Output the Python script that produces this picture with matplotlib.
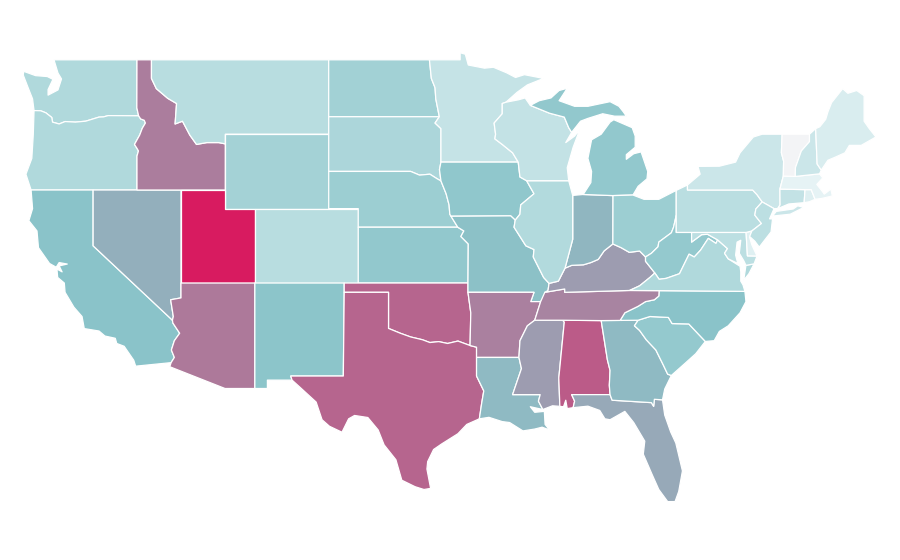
import matplotlib
matplotlib.use("Agg")
import matplotlib.pyplot as plt
from matplotlib.colors import LinearSegmentedColormap, Normalize
from matplotlib.patches import Polygon

WA = [(-122.65,49.0),(-117.03,49.0),(-117.04,46.42),(-116.92,45.99),(-118.98,46.0),(-119.3,45.93),(-119.6,45.92),(-120.5,45.7),(-121.2,45.65),(-121.9,45.68),(-122.3,45.55),(-122.75,45.65),(-122.8,45.9),(-123.2,46.15),(-123.55,46.26),(-124.0,46.27),(-124.07,46.7),(-124.1,46.9),(-124.4,47.5),(-124.73,48.18),(-124.7,48.38),(-123.9,48.15),(-123.1,48.1),(-122.72,47.95),(-123.05,47.4),(-123.05,47.1),(-122.38,47.38),(-122.14,47.97),(-122.38,48.29)]
OR = [(-124.0,46.27),(-123.55,46.26),(-123.2,46.15),(-122.8,45.9),(-122.75,45.65),(-122.3,45.55),(-121.9,45.68),(-121.2,45.65),(-120.5,45.7),(-119.6,45.92),(-119.3,45.93),(-118.98,46.0),(-116.92,45.99),(-116.78,45.82),(-116.54,45.75),(-116.46,45.6),(-116.67,45.32),(-116.85,44.95),(-117.2,44.45),(-117.03,44.24),(-116.93,44.1),(-117.03,43.83),(-117.03,42.0),(-124.2,42.0),(-124.55,42.85),(-124.15,43.7),(-124.05,45.0)]
CA = [(-124.2,42),(-120,42),(-120,39),(-114.63,35),(-114.6,34.85),(-114.14,34.3),(-114.5,33.9),(-114.7,33.4),(-114.5,33),(-114.72,32.72),(-117.12,32.53),(-117.25,32.85),(-117.9,33.6),(-118.4,33.75),(-118.5,34.03),(-119.2,34.15),(-119.6,34.42),(-120.6,34.55),(-120.75,35.2),(-121.3,35.7),(-121.9,36.5),(-121.95,37.0),(-122.4,37.3),(-122.45,37.75),(-122.1,37.6),(-122.3,37.92),(-121.75,38.02),(-122.3,38.1),(-122.5,37.85),(-122.95,38.05),(-123.7,38.9),(-123.8,39.8),(-124.35,40.35),(-124.1,41.0)]
NV = [(-120,42),(-114.05,42),(-114.05,36.2),(-114.75,36.1),(-114.57,35.2),(-114.63,35),(-120,39)]
ID = [(-117.03,49),(-116.05,49),(-116.05,48.0),(-115.72,47.45),(-114.95,46.93),(-114.35,46.65),(-114.45,45.55),(-113.95,45.7),(-113.45,44.95),(-113.0,44.45),(-112.3,44.55),(-111.5,44.55),(-111.05,44.48),(-111.05,42),(-117.03,42),(-117.03,43.83),(-116.93,44.1),(-117.03,44.24),(-117.2,44.45),(-116.85,44.95),(-116.67,45.32),(-116.46,45.6),(-116.54,45.75),(-116.78,45.82),(-116.92,45.99),(-117.04,46.42)]
MT = [(-116.05,49),(-104.05,49),(-104.05,45),(-111.05,45),(-111.05,44.48),(-111.5,44.55),(-112.3,44.55),(-113.0,44.45),(-113.45,44.95),(-113.95,45.7),(-114.45,45.55),(-114.35,46.65),(-114.95,46.93),(-115.72,47.45),(-116.05,48.0)]
WY = [(-111.05,45),(-104.05,45),(-104.05,41),(-111.05,41)]
UT = [(-114.05,42),(-111.05,42),(-111.05,41),(-109.05,41),(-109.05,37),(-114.05,37)]
CO = [(-109.05,41),(-102.05,41),(-102.05,37),(-109.05,37)]
AZ = [(-114.05,37),(-109.05,37),(-109.05,31.33),(-111.07,31.33),(-114.81,32.5),(-114.72,32.72),(-114.5,33.0),(-114.7,33.4),(-114.5,33.9),(-114.14,34.3),(-114.6,34.85),(-114.63,35.0),(-114.57,35.2),(-114.75,36.1),(-114.05,36.2)]
NM = [(-109.05,37),(-103,37),(-103,36.5),(-103.06,32),(-106.62,32),(-106.53,31.78),(-108.2,31.78),(-108.2,31.33),(-109.05,31.33)]
ND = [(-104.05,49),(-97.23,49),(-97.1,48.0),(-96.85,47.5),(-96.8,46.9),(-96.56,45.94),(-104.05,45.94)]
SD = [(-104.05,45.94),(-96.56,45.94),(-96.85,45.6),(-96.45,45.3),(-96.45,43.5),(-96.55,43.1),(-96.45,42.49),(-96.7,42.6),(-97.2,42.85),(-97.9,42.8),(-98.5,43),(-104.05,43)]
NE = [(-104.05,43),(-98.5,43),(-97.9,42.8),(-97.2,42.85),(-96.7,42.6),(-96.45,42.49),(-96.1,41.8),(-95.9,41.2),(-95.85,40.7),(-95.31,40),(-102.05,40),(-102.05,41),(-104.05,41)]
KS = [(-102.05,40),(-95.31,40),(-94.9,39.8),(-95.1,39.5),(-94.6,39.1),(-94.62,37),(-102.05,37)]
OK = [(-103,37),(-94.62,37),(-94.62,36.5),(-94.43,35.4),(-94.48,33.64),(-95.3,33.88),(-96.0,33.75),(-96.6,33.85),(-97.2,33.8),(-97.7,33.95),(-98.5,34.1),(-99.2,34.3),(-100,34.56),(-100,36.5),(-103,36.5)]
TX = [(-103,36.5),(-100,36.5),(-100,34.56),(-99.2,34.3),(-98.5,34.1),(-97.7,33.95),(-97.2,33.8),(-96.6,33.85),(-96.0,33.75),(-95.3,33.88),(-94.48,33.64),(-94.04,33.55),(-94.04,32),(-93.55,31.2),(-93.7,30.5),(-93.85,29.7),(-94.7,29.4),(-95.3,28.9),(-96.4,28.35),(-96.95,28.05),(-97.35,27.4),(-97.4,27),(-97.15,25.96),(-97.6,25.9),(-98.2,26.05),(-99.1,26.4),(-99.5,27.5),(-100.3,28.3),(-100.7,29.1),(-101.4,29.77),(-102.3,29.88),(-102.7,29.7),(-103.15,28.98),(-104,29.3),(-104.5,29.65),(-104.9,30.6),(-106,31.4),(-106.53,31.78),(-106.62,32),(-103.06,32)]
MN = [(-97.23,49),(-95.15,49),(-95.15,49.38),(-94.8,49.3),(-94.6,48.72),(-93.5,48.55),(-92.9,48.6),(-92,48.3),(-91.4,48.05),(-90.8,48.2),(-89.5,48),(-90.6,47.65),(-91.3,47.25),(-92.05,46.72),(-92.3,46.65),(-92.3,46.1),(-92.85,45.6),(-92.75,45),(-92.8,44.75),(-92.3,44.45),(-91.6,44),(-91.22,43.5),(-96.45,43.5),(-96.45,45.3),(-96.85,45.6),(-96.56,45.94),(-96.8,46.9),(-96.85,47.5),(-97.1,48)]
IA = [(-96.45,43.5),(-91.22,43.5),(-91.1,42.7),(-90.65,42.5),(-90.15,41.8),(-91.05,41.2),(-91.1,40.7),(-91.42,40.38),(-91.73,40.61),(-95.77,40.59),(-95.85,40.7),(-95.9,41.2),(-96.1,41.8),(-96.45,42.49),(-96.55,43.1)]
MO = [(-95.77,40.59),(-91.73,40.61),(-91.42,40.38),(-91.5,40),(-90.7,39),(-90.15,38.8),(-90.2,38.4),(-89.5,37.3),(-89.13,36.98),(-89.2,36.6),(-89.7,36),(-90.37,36),(-90.15,36.5),(-94.62,36.5),(-94.62,37),(-94.6,39.1),(-95.1,39.5),(-94.9,39.8),(-95.31,40)]
AR = [(-94.62,36.5),(-90.15,36.5),(-90.37,36),(-89.7,36),(-90.1,35),(-90.6,34.7),(-91.1,33.9),(-91.17,33),(-94.04,33),(-94.04,33.55),(-94.48,33.64),(-94.43,35.4)]
LA = [(-94.04,33),(-91.17,33),(-91,32.4),(-91.6,31),(-89.73,31),(-89.85,30.65),(-89.55,30.2),(-90.4,30.35),(-90.1,30.05),(-89.45,30.1),(-89.4,29.4),(-89.1,29.1),(-89.6,29.25),(-90.1,29.15),(-90.9,29.05),(-91.8,29.5),(-92.3,29.55),(-93.2,29.78),(-93.85,29.7),(-93.7,30.5),(-93.55,31.2),(-94.04,32)]
MS = [(-90.1,35),(-88.2,35),(-88.1,34.9),(-88.47,31.9),(-88.4,30.37),(-88.9,30.4),(-89.55,30.2),(-89.85,30.65),(-89.73,31),(-91.6,31),(-91,32.4),(-91.17,33),(-91.1,33.9),(-90.6,34.7)]
AL = [(-88.2,35),(-85.6,34.98),(-85.18,32.87),(-85,32.3),(-85.05,31.5),(-85,31),(-87.6,31),(-87.4,30.65),(-87.5,30.3),(-87.9,30.25),(-88,30.7),(-88.15,30.35),(-88.4,30.37),(-88.47,31.9),(-88.1,34.9)]
FL = [(-87.6,31),(-85,31),(-84.86,30.7),(-82.2,30.57),(-82.05,30.37),(-82,30.75),(-81.45,30.72),(-81.3,29.9),(-80.9,29),(-80.55,28.4),(-80.1,26.9),(-80.35,25.8),(-80.6,25.25),(-81.1,25.25),(-81.7,25.9),(-82.15,26.7),(-82.75,27.8),(-82.65,28.5),(-83.4,29.5),(-84,30.1),(-85,29.65),(-85.35,29.7),(-85.7,30.15),(-86.5,30.38),(-87.5,30.3),(-87.4,30.65)]
GA = [(-85.6,34.98),(-83.1,35),(-83.35,34.7),(-83,34.45),(-82.55,33.95),(-81.9,33.4),(-81.4,32.6),(-81.1,32.1),(-80.85,32.03),(-81.3,31.3),(-81.45,30.72),(-82,30.75),(-82.05,30.37),(-82.2,30.57),(-84.86,30.7),(-85,31),(-85.05,31.5),(-85,32.3),(-85.18,32.87)]
SC = [(-83.1,35),(-82.3,35.2),(-81.05,35.15),(-80.8,34.82),(-79.67,34.8),(-78.55,33.86),(-79.2,33.2),(-79.9,32.7),(-80.85,32.03),(-81.1,32.1),(-81.4,32.6),(-81.9,33.4),(-82.55,33.95),(-83,34.45),(-83.35,34.7)]
NC = [(-84.32,34.99),(-83.1,35),(-82.3,35.2),(-81.05,35.15),(-80.8,34.82),(-79.67,34.8),(-78.55,33.86),(-77.95,33.9),(-77.6,34.4),(-77,34.7),(-76.2,35.4),(-75.8,36),(-75.87,36.55),(-81.68,36.59),(-81.7,36.3),(-82,36.1),(-82.6,36),(-83.1,35.75),(-84,35.4)]
TN = [(-90.1,35),(-88.2,35),(-85.6,34.98),(-84.32,34.99),(-84,35.4),(-83.1,35.75),(-82.6,36),(-82,36.1),(-81.7,36.3),(-81.68,36.59),(-83.68,36.6),(-88.07,36.5),(-88.07,36.68),(-89.42,36.5),(-89.7,36)]
KY = [(-89.42,36.5),(-88.07,36.68),(-88.07,36.5),(-83.68,36.6),(-83,36.85),(-82.3,37.3),(-81.97,37.54),(-82.6,38.17),(-82.6,38.4),(-83,38.72),(-83.7,38.65),(-84.25,38.9),(-84.81,39.1),(-85.4,38.73),(-85.8,38.27),(-86.3,38.1),(-86.8,37.98),(-87.6,37.95),(-88.05,37.8),(-88.5,37.1),(-89.13,36.98),(-89.2,36.6)]
IN = [(-87.53,41.71),(-86.82,41.76),(-84.8,41.7),(-84.81,39.1),(-85.4,38.73),(-85.8,38.27),(-86.3,38.1),(-86.8,37.98),(-87.6,37.95),(-88.05,37.8),(-87.53,39.35)]
IL = [(-90.65,42.5),(-87.8,42.5),(-87.53,41.71),(-87.53,39.35),(-88.05,37.8),(-88.5,37.1),(-89.13,36.98),(-89.5,37.3),(-90.2,38.4),(-90.15,38.8),(-90.7,39),(-91.5,40),(-91.42,40.38),(-91.1,40.7),(-91.05,41.2),(-90.15,41.8)]
WI = [(-92.05,46.72),(-91.2,46.85),(-90.75,46.95),(-90.4,46.55),(-89.1,46.13),(-88.1,45.92),(-87.8,45.35),(-87.6,45.1),(-88,44.55),(-87.4,44.9),(-87.05,45.25),(-87.5,44.3),(-87.9,43.2),(-87.8,42.5),(-90.65,42.5),(-91.1,42.7),(-91.22,43.5),(-91.6,44),(-92.3,44.45),(-92.8,44.75),(-92.75,45),(-92.85,45.6),(-92.3,46.1),(-92.3,46.65)]
MI_UP = [(-90.4,46.55),(-89.8,46.8),(-89,46.95),(-88.45,47.35),(-87.9,47.47),(-88.45,46.8),(-87.4,46.5),(-86.5,46.5),(-85,46.75),(-84.4,46.5),(-84.1,46.2),(-83.9,45.97),(-84.7,45.97),(-85.5,46.1),(-86.5,45.85),(-87,45.7),(-87.6,45.1),(-87.8,45.35),(-88.1,45.92),(-89.1,46.13)]
MI_LP = [(-86.82,41.76),(-86.3,42.4),(-86.25,43),(-86.5,43.7),(-86.25,44.7),(-85.6,45),(-85,45.65),(-84.75,45.78),(-83.5,45.35),(-83.3,44.9),(-83.3,44.3),(-83.9,43.9),(-83.9,43.65),(-83.4,43.95),(-82.9,44.05),(-82.45,43),(-82.5,42.6),(-83.1,42.2),(-83.45,41.73),(-84.8,41.7)]
OH = [(-84.8,41.7),(-83.45,41.73),(-82.7,41.5),(-81.7,41.5),(-80.52,41.98),(-80.52,40.64),(-80.7,40),(-80.85,39.7),(-81.7,39.2),(-81.75,38.95),(-82.2,38.6),(-82.6,38.4),(-83,38.72),(-83.7,38.65),(-84.25,38.9),(-84.81,39.1)]
WV = [(-80.52,40.64),(-80.52,39.72),(-79.48,39.72),(-79.48,39.2),(-78.8,39.6),(-78.4,39.62),(-77.72,39.32),(-77.83,39.13),(-78.35,39.4),(-78.87,38.77),(-79.3,38.4),(-79.65,38.55),(-80.3,37.5),(-81.2,37.25),(-81.68,37.2),(-81.97,37.54),(-82.6,38.17),(-82.6,38.4),(-82.2,38.6),(-81.75,38.95),(-81.7,39.2),(-80.85,39.7),(-80.7,40)]
VA = [(-83.68,36.6),(-81.68,36.59),(-75.87,36.55),(-76,36.9),(-76.15,37.1),(-76.15,37.6),(-76.2,37.9),(-77,38.3),(-77.25,38.6),(-77.05,38.85),(-77.72,39.32),(-77.83,39.13),(-78.35,39.4),(-78.87,38.77),(-79.3,38.4),(-79.65,38.55),(-80.3,37.5),(-81.2,37.25),(-81.68,37.2),(-81.97,37.54),(-82.3,37.3),(-83,36.85)]
VA_SHORE = [(-75.95,37.15),(-75.8,37.95),(-75.25,38.03),(-75.6,37.5)]
MD = [(-79.48,39.72),(-75.79,39.72),(-75.7,38.46),(-75.05,38.45),(-75.25,38.03),(-75.8,37.95),(-75.95,38.2),(-76.25,38.6),(-76.15,39.3),(-76.4,39.2),(-76.5,38.5),(-76.35,38.05),(-77,38.3),(-77.25,38.6),(-77.05,38.85),(-77.72,39.32),(-78.4,39.62),(-78.8,39.6),(-79.48,39.2)]
DE = [(-75.79,39.72),(-75.4,39.8),(-75.55,39.45),(-75.4,39.05),(-75.05,38.45),(-75.7,38.46)]
PA = [(-80.52,41.98),(-79.76,42.27),(-79.76,42),(-75.35,42),(-75.05,41.75),(-74.7,41.36),(-75.13,40.98),(-75.2,40.65),(-74.75,40.2),(-75.4,39.8),(-75.79,39.72),(-80.52,39.72),(-80.52,40.64)]
NY = [(-79.76,42.27),(-78.9,42.85),(-79.05,43.27),(-77.6,43.28),(-76.5,43.5),(-76.2,44),(-75.3,44.85),(-74.7,45),(-73.35,45),(-73.4,44),(-73.25,43.55),(-73.27,42.75),(-73.5,42.05),(-73.49,41.2),(-73.65,41),(-73.9,41),(-74.7,41.36),(-75.05,41.75),(-75.35,42),(-79.76,42)]
LI = [(-74,40.6),(-73.75,40.85),(-72.6,40.98),(-72.3,41.15),(-71.87,41.07),(-72.8,40.7)]
NJ = [(-74.7,41.36),(-73.9,41),(-74.2,40.45),(-74,40.45),(-74.1,39.75),(-74.9,38.93),(-75.2,39.25),(-75.55,39.5),(-75.4,39.8),(-74.75,40.2),(-75.2,40.65),(-75.13,40.98)]
CT = [(-73.5,42.05),(-71.8,42.02),(-71.86,41.32),(-72.9,41.25),(-73.65,41),(-73.49,41.2)]
RI = [(-71.8,42.02),(-71.38,42.02),(-71.12,41.5),(-71.5,41.37),(-71.86,41.32)]
MA = [(-73.5,42.05),(-73.27,42.75),(-72.46,42.73),(-70.82,42.87),(-70.6,42.65),(-71,42.3),(-70.65,41.95),(-70.5,41.78),(-70.05,42.05),(-69.95,41.68),(-70.65,41.55),(-71.12,41.5),(-71.38,42.02),(-71.8,42.02)]
VT = [(-73.35,45),(-71.5,45),(-71.5,44.6),(-72.05,44.1),(-72.45,43.2),(-72.46,42.73),(-73.27,42.75),(-73.25,43.55),(-73.4,44)]
NH = [(-71.5,45),(-71.08,45.3),(-70.98,43.4),(-70.7,43.07),(-70.82,42.87),(-72.46,42.73),(-72.45,43.2),(-72.05,44.1),(-71.5,44.6)]
ME = [(-71.08,45.3),(-70.8,45.4),(-70.4,45.8),(-70.25,46.2),(-70,46.7),(-69.25,47.45),(-68.9,47.2),(-68.3,47.35),(-67.8,47.07),(-67.8,45.7),(-67.45,45.3),(-67,44.85),(-68,44.4),(-68.8,44.4),(-69.1,44),(-69.8,43.75),(-70.25,43.6),(-70.7,43.07),(-70.98,43.4)]

# state, outline parts, value (0 = palest, 50 = teal, 100 = crimson)
states = ["WA","OR","CA","NV","ID","MT","WY","UT","CO","AZ","NM","ND","SD","NE","KS","OK","TX",
          "MN","IA","MO","AR","LA","MS","AL","FL","GA","SC","NC","TN","KY","IN","IL","WI","MI",
          "OH","WV","VA","MD","DE","PA","NY","NJ","CT","RI","MA","VT","NH","ME"]
outlines = [[WA],[OR],[CA],[NV],[ID],[MT],[WY],[UT],[CO],[AZ],[NM],[ND],[SD],[NE],[KS],[OK],[TX],
            [MN],[IA],[MO],[AR],[LA],[MS],[AL],[FL],[GA],[SC],[NC],[TN],[KY],[IN],[IL],[WI],[MI_UP,MI_LP],
            [OH],[WV],[VA,VA_SHORE],[MD],[DE],[PA],[NY,LI],[NJ],[CT],[RI],[MA],[VT],[NH],[ME]]
values = [31,31,50,56,71,27,37,100,27,72,49,38,33,41,46,78,78,
          21,47,51,70,53,62,81,58,53,45,50,69,62,54,30,22,46,
          41,45,31,25,9,26,18,25,22,10,6,0,18,12]

cmap = LinearSegmentedColormap.from_list(
    "pale_teal_crimson",
    [(0, "#f3f4f6"), (0.06, "#e6f3f5"), (0.25, "#bcdfe2"), (0.5, "#8ac4c9"), (1, "#d81b60")])
norm = Normalize(0, 100)

fig = plt.figure(figsize=(9, 5.6), dpi=100, facecolor="white")
ax = fig.add_axes([0, 0, 1, 1])
ax.set_xlim(-126.305, -65.37)
ax.set_ylim(22.11, 52.215)
ax.axis("off")
for name, parts, v in zip(states, outlines, values):
    for part in parts:
        ax.add_patch(Polygon(part, closed=True, facecolor=cmap(norm(v)),
                             edgecolor="white", linewidth=0.9, joinstyle="round", label=name))
fig.savefig("out.png", dpi=100)
